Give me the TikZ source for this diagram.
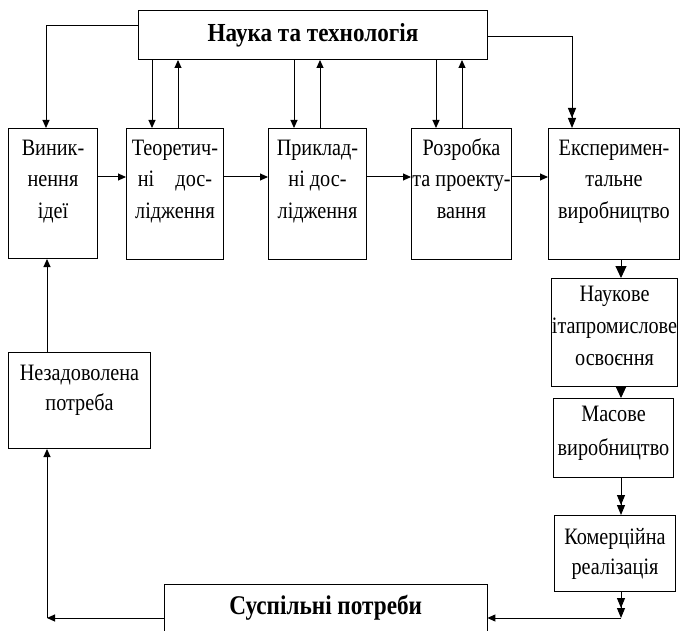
\documentclass[tikz,border=0pt]{standalone}
\usepackage{fontspec}
\usetikzlibrary{arrows.meta}
\newfontfamily\cf{Liberation Serif}[FakeStretch=0.86]
\newfontfamily\cfb{Liberation Serif Bold}[FakeStretch=0.89]
\newfontfamily\cfs{Liberation Serif Bold}[FakeStretch=0.86]
\newcommand\bt[5]{\parbox[c][#2][t]{#1}{\centering\cf\fontsize{23.5}{#4}\selectfont\rule{0pt}{#3}#5\par}}
\tikzset{
  blk/.style={draw, line width=1pt, inner sep=0pt, anchor=north west},
  arr/.style={line width=1pt, -{Triangle[length=8pt,width=7pt]}},
  arrbig/.style={line width=1pt, -{Triangle[length=12pt,width=11pt]}},
  arrdbl/.style={line width=1pt, -{Triangle[length=10pt,width=8pt] Triangle[length=10pt,width=8pt]}},
  ln/.style={line width=1pt}
}
\begin{document}
\begin{tikzpicture}[x=1pt,y=-1pt]
\useasboundingbox[fill=white] (0,0) rectangle (682,631);
% top
\node[blk, minimum width=349pt, minimum height=49pt] (T) at (138,10) {\cfb\fontsize{26}{30}\selectfont Наука та технологія};
% row
\node[blk] (b1) at (8,128) {\bt{89pt}{130pt}{27pt}{31.5pt}{Виник-\\нення\\ідеї}};
\node[blk] (b2) at (126,128) {\bt{97pt}{131pt}{27pt}{31.5pt}{Теоретич-\\ні\hspace{0.9em}дос-\\лідження}};
\node[blk] (b3) at (268,128) {\bt{98pt}{131pt}{27pt}{31.5pt}{Приклад-\\ні дос-\\лідження}};
\node[blk] (b4) at (411,128) {\bt{100pt}{131pt}{27pt}{31.5pt}{Розробка\\та проекту-\\вання}};
\node[blk] (b5) at (548,128) {\bt{131pt}{131pt}{27pt}{31.5pt}{Експеримен-\\тальне\\виробництво}};
% right column
\node[blk] (n) at (551,278) {\bt{126pt}{108pt}{23pt}{32pt}{Наукове\\ітапромислове\\освоєння}};
\node[blk] (m) at (553,398) {\bt{120pt}{79pt}{23pt}{34pt}{Масове\\виробництво}};
\node[blk] (k) at (554,515) {\bt{121pt}{76pt}{29pt}{30pt}{Комерційна\\реалізація}};
% left
\node[blk] (u) at (8,352) {\bt{142pt}{96pt}{28pt}{30pt}{Незадоволена\\потреба}};
% bottom (open at the lower edge)
\node[inner sep=0pt, anchor=north west, minimum width=323pt, minimum height=47pt] (s) at (164,584) {\cfs\fontsize{27}{30}\selectfont Суспільні потреби};
\draw[ln] (s.south west) -- (s.north west) -- (s.north east) -- (s.south east);
% coordinates
\coordinate (tl) at (46,26);
\coordinate (tr) at (572,37);
\coordinate (x2d) at (152,0);
\coordinate (x2u) at (178,0);
\coordinate (x3d) at (294,0);
\coordinate (x3u) at (320,0);
\coordinate (x4d) at (436,0);
\coordinate (x4u) at (462,0);
\coordinate (hy) at (0,177);
\coordinate (kc) at (621,618);
\coordinate (lc) at (47,618);
% top connectors
\draw[arr] (T.west |- tl) -- (tl) -- (b1.north -| tl);
\draw[arrdbl] (T.east |- tr) -- (tr) -- (b5.north -| tr);
\draw[arr] (x2d |- T.south) -- (x2d |- b2.north);
\draw[arr] (x2u |- b2.north) -- (x2u |- T.south);
\draw[arr] (x3d |- T.south) -- (x3d |- b3.north);
\draw[arr] (x3u |- b3.north) -- (x3u |- T.south);
\draw[arr] (x4d |- T.south) -- (x4d |- b4.north);
\draw[arr] (x4u |- b4.north) -- (x4u |- T.south);
% row connectors
\draw[arr] (b1.east |- hy) -- (b2.west |- hy);
\draw[arr] (b2.east |- hy) -- (b3.west |- hy);
\draw[arr] (b3.east |- hy) -- (b4.west |- hy);
\draw[arr] (b4.east |- hy) -- (b5.west |- hy);
% right column connectors
\draw[arrbig] (b5.south -| kc) -- (n.north -| kc);
\draw[arrbig] (n.south -| kc) -- (m.north -| kc);
\draw[arrdbl] (m.south -| kc) -- (k.north -| kc);
\draw[arrdbl] (k.south -| kc) -- (kc);
\draw[arr] (kc) -- (s.east |- kc);
% left loop
\draw[arr] (s.west |- lc) -- (lc);
\draw[arr] (lc) -- (u.south -| lc);
\draw[arr] (u.north -| lc) -- (b1.south -| lc);
\end{tikzpicture}
\end{document}
